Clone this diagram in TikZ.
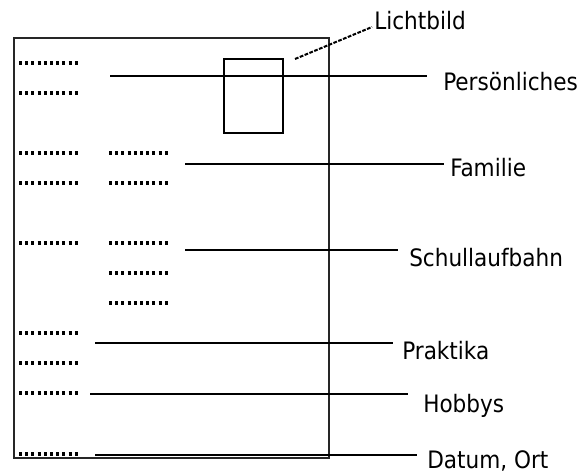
\documentclass[tikz,border=0pt]{standalone}
\usepackage{fontspec}
\setmainfont{DejaVu Sans Condensed}
\begin{document}
\begin{tikzpicture}[x=0.75pt,y=-0.75pt,
  frame/.style={draw=black!85,line width=1.9pt},
  photo/.style={draw=black,line width=1.5pt},
  lead/.style={draw=black,line width=1.5pt},
  dotrow/.style={draw=black,line width=2.4pt,dash pattern=on 2.3pt off 2.35pt},
  lbl/.style={anchor=base west,inner sep=0pt,font=\fontsize{18pt}{21pt}\selectfont,text=black}]
\useasboundingbox (0,0) rectangle (588,473);
% outer sheet
\draw[frame] (14,38) rectangle (329,458);
% photo box
\node[photo,minimum width=44.25pt,minimum height=55.5pt,inner sep=0pt,anchor=north west] (foto) at (223,58) {};
% placeholder dot rows
\foreach \yy in {63,93,153,183,243,333,363,393,454}
  \draw[dotrow] (19,\yy) -- (79,\yy);
\foreach \yy in {153,183,243,273,303}
  \draw[dotrow] (109,\yy) -- (169,\yy);
% labels
\node[lbl] (licht) at (374,30) {Lichtbild};
\node[lbl] (pers) at (443,91) {Persönliches};
\node[lbl] (fam) at (450,177) {Familie};
\node[lbl] (schul) at (409,267) {Schullaufbahn};
\node[lbl] (prak) at (402,359) {Praktika};
\node[lbl] (hob) at (423,412) {Hobbys};
\node[lbl] (dat) at (427,468) {Datum, Ort};
% start and end points of lead lines
\coordinate (sL) at (295,59);
\coordinate (eL) at (372,27);
\coordinate (sP) at (110,76);
\coordinate (eP) at (427,76);
\coordinate (sF) at (185,164);
\coordinate (eF) at (444,164);
\coordinate (sS) at (185,250);
\coordinate (eS) at (398,250);
\coordinate (sK) at (95,343);
\coordinate (eK) at (393,343);
\coordinate (sH) at (90,394);
\coordinate (eH) at (408,394);
\coordinate (sD) at (95,455);
\coordinate (eD) at (417,455);
% lead lines
\draw[lead,line width=1.5pt,dash pattern=on 2.8pt off 1.1pt] (sL) -- (eL);
\draw[lead] (sP) -- (eP);
\draw[lead] (sF) -- (eF);
\draw[lead] (sS) -- (eS);
\draw[lead] (sK) -- (eK);
\draw[lead] (sH) -- (eH);
\draw[lead] (sD) -- (eD);
\end{tikzpicture}
\end{document}
